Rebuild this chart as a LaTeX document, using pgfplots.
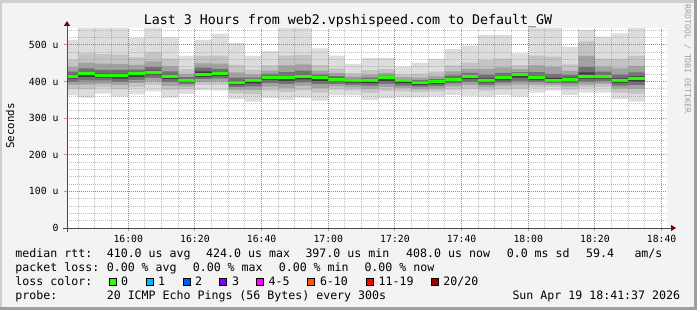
\documentclass[border=0pt]{standalone}
\usepackage{fontspec}
\setmonofont{DejaVu Sans Mono}
\usepackage{pgfplots}
\pgfplotsset{compat=1.18}
\usepackage{pgfplotstable}
\usetikzlibrary{arrows.meta}
\definecolor{bgc}{HTML}{F3F3F3}
\definecolor{shadea}{HTML}{CFCFCF}
\definecolor{shadeb}{HTML}{9E9E9E}
\definecolor{sm1}{HTML}{DDDDDD}
\definecolor{sm2}{HTML}{C4C4C4}
\definecolor{sm3}{HTML}{A2A2A2}
\definecolor{sm4}{HTML}{717171}
\definecolor{sm5}{HTML}{3C3C3C}
\definecolor{medgreen}{HTML}{26FF00}
\definecolor{arrowred}{HTML}{7F0000}
\definecolor{mgrid}{RGB}{200,60,60}
\definecolor{mingrid}{RGB}{140,140,140}
\definecolor{lc1}{HTML}{00B8FF}
\definecolor{lc2}{HTML}{0059FF}
\definecolor{lc3}{HTML}{7E00FF}
\definecolor{lc5}{HTML}{FF00FF}
\definecolor{lc10}{HTML}{FF5500}
\definecolor{lc19}{HTML}{FF0000}
\definecolor{lc20}{HTML}{A00000}
\definecolor{wm}{HTML}{A0A0A0}
\newcommand\lfont{\ttfamily\fontsize{11.6bp}{13bp}\selectfont}
\pgfplotstableread{
x min lo2 lo3 lo4 lo5 med hi5 hi4 hi3 hi2 max
940 362 380 391 400 408 415 419 427 440 460 514
945 356 379 392 403 412 421 426 436 452 477 546
950 367 384 394 403 410 417 422 432 449 475 546
955 359 379 390 400 408 416 421 432 448 474 546
960 365 385 396 405 413 421 425 433 446 466 520
965 373 391 402 410 418 425 430 440 455 480 546
970 356 377 388 399 407 415 419 428 442 463 521
975 366 379 387 393 399 404 407 412 421 434 470
980 376 391 400 407 413 419 428 438 450 470 514
985 375 391 401 409 415 422 426 435 449 471 531
990 352 368 377 385 392 398 402 411 425 446 505
995 345 365 377 387 395 403 406 411 420 433 470
1000 355 375 386 396 404 412 415 421 430 444 483
1005 350 371 383 393 402 410 415 426 444 471 546
1010 356 376 388 398 406 414 419 430 447 473 546
1015 348 370 382 393 401 410 413 420 430 446 491
1020 362 378 387 394 401 407 410 415 423 436 471
1025 362 376 384 391 397 403 405 408 414 423 448
1030 350 369 380 389 396 404 406 411 419 431 464
1035 354 374 385 394 402 410 412 416 424 434 464
1040 357 373 382 389 396 402 404 407 412 420 441
1045 357 371 379 386 391 397 399 404 411 422 452
1050 359 373 381 388 393 399 402 407 415 427 462
1055 363 378 387 395 401 407 410 417 428 444 489
1060 361 380 390 399 407 414 417 424 435 452 498
1065 359 375 384 391 398 404 409 419 435 459 527
1070 363 379 389 397 403 410 415 424 439 463 527
1075 359 380 392 402 411 419 421 426 434 445 477
1080 370 384 392 399 404 410 415 426 444 471 546
1085 375 385 391 396 400 404 410 421 440 468 546
1090 363 378 387 395 401 407 411 418 429 447 495
1095 370 384 392 400 408 414 425 440 470 510 541
1100 370 385 394 402 408 414 418 427 441 463 523
1105 352 370 381 389 397 404 409 419 436 462 532
1110 345 367 380 390 399 408 414 425 443 470 546
1115 345 367 380 390 399 408 414 425 443 470 546
}\smoke
\begin{document}
\begin{tikzpicture}[x=1bp,y=1bp]
\fill[bgc] (0,0) rectangle (697,310);
\fill[shadea] (0,307) rectangle (697,310);
\fill[shadea] (0,0) rectangle (2,310);
\fill[shadeb] (0,0) rectangle (697,3);
\fill[shadeb] (694,0) rectangle (697,310);
\begin{axis}[
  at={(67bp,82bp)}, anchor=south west,
  scale only axis, width=600bp, height=200bp,
  xmin=941.617, xmax=1121.617, ymin=0, ymax=546.4,
  axis on top,
  axis background/.style={fill=white},
  axis lines=left,
  x axis line style={draw=black!70, line width=1bp, -{Triangle[length=5bp,width=6bp,color=arrowred]}, shorten >=-9bp, shorten <=-4bp},
  y axis line style={draw=black!70, line width=1bp, -{Triangle[length=5bp,width=6bp,color=arrowred]}, shorten >=-7bp, shorten <=-4bp},
  xtick={960,980,...,1120},
  xticklabels={16:00,16:20,16:40,17:00,17:20,17:40,18:00,18:20,18:40},
  minor xtick={945,950,...,1120},
  ytick={0,100,...,500},
  yticklabels={0,100 u,200 u,300 u,400 u,500 u},
  minor ytick={20,40,...,540},
  grid=both,
  major grid style={draw=mgrid, opacity=0.55, line width=1bp, dash pattern=on 1bp off 1bp},
  minor grid style={draw=mingrid, opacity=0.55, line width=1bp, dash pattern=on 1bp off 1bp},
  tick align=outside,
  major tick length=3bp, minor tick length=0bp,
  major tick style={draw=mgrid, opacity=0.6, line width=1bp},
  ticklabel style={font=\ttfamily\fontsize{9.8bp}{11bp}\selectfont},
  yticklabel style={xshift=-2bp},
  xticklabel style={yshift=-1bp},
  every axis plot/.append style={const plot, draw=none, forget plot},
]
% upper edges of the smoke layers, outer to inner
\addplot[fill=sm1] table[x=x,y=max]{\smoke} \closedcycle;
\addplot[fill=sm2] table[x=x,y=hi2]{\smoke} \closedcycle;
\addplot[fill=sm3] table[x=x,y=hi3]{\smoke} \closedcycle;
\addplot[fill=sm4] table[x=x,y=hi4]{\smoke} \closedcycle;
\addplot[fill=sm5] table[x=x,y=hi5]{\smoke} \closedcycle;
% lower edges, inner to outer
\addplot[fill=sm4] table[x=x,y=lo5]{\smoke} \closedcycle;
\addplot[fill=sm3] table[x=x,y=lo4]{\smoke} \closedcycle;
\addplot[fill=sm2] table[x=x,y=lo3]{\smoke} \closedcycle;
\addplot[fill=sm1] table[x=x,y=lo2]{\smoke} \closedcycle;
\addplot[fill=white] table[x=x,y=min]{\smoke} \closedcycle;
% median
\addplot[jump mark left, draw=medgreen, line width=3bp] table[x=x,y=med]{\smoke};
\end{axis}
% title and labels
\node[anchor=base, inner sep=0, font=\ttfamily\fontsize{13.3bp}{15bp}\selectfont] at (348,286) {Last 3 Hours from web2.vpshispeed.com to Default\_GW};
\node[rotate=90, inner sep=0, font=\ttfamily\fontsize{10.8bp}{12bp}\selectfont] at (10,184) {Seconds};
\node[rotate=-90, inner sep=0, text=wm, font=\ttfamily\fontsize{8.2bp}{9bp}\selectfont] at (687.5,251) {RRDTOOL / TOBI OETIKER};
\begin{scope}[every node/.style={anchor=base west, inner sep=0, font=\lfont}]
% line 1
\node at (15.3,52.3) {median rtt:};
\node at (106.6,52.3) {410.0 us avg};
\node at (206,52.3) {424.0 us max};
\node at (305.3,52.3) {397.0 us min};
\node at (406,52.3) {408.0 us now};
\node at (506.6,52.3) {0.0 ms sd};
\node at (586,52.3) {59.4};
\node at (634.3,52.3) {am/s};
% line 2
\node at (15.3,38.4) {packet loss:};
\node at (106.6,38.4) {0.00 \% avg};
\node at (192.6,38.4) {0.00 \% max};
\node at (278.6,38.4) {0.00 \% min};
\node at (364.3,38.4) {0.00 \% now};
% line 3
\node at (15.3,24.5) {loss color:};
\node at (121,24.5) {0};
\node at (158,24.5) {1};
\node at (195,24.5) {2};
\node at (231.8,24.5) {3};
\node at (268.5,24.5) {4-5};
\node at (319.8,24.5) {6-10};
\node at (378.5,24.5) {11-19};
\node at (443.2,24.5) {20/20};
% line 4
\node at (15.3,10.6) {probe:};
\node at (106.6,10.6) {20 ICMP Echo Pings (56 Bytes) every 300s};
\node at (512.3,10.6) {Sun Apr 19 18:41:37 2026};
\end{scope}
\begin{scope}[line width=1bp, draw=black]
\filldraw[fill=medgreen] (109.2,24.3) rectangle +(6.8,6.8);
\filldraw[fill=lc1] (146.2,24.3) rectangle +(6.8,6.8);
\filldraw[fill=lc2] (183.2,24.3) rectangle +(6.8,6.8);
\filldraw[fill=lc3] (219.8,24.3) rectangle +(6.8,6.8);
\filldraw[fill=lc5] (256.5,24.3) rectangle +(6.8,6.8);
\filldraw[fill=lc10] (307.8,24.3) rectangle +(6.8,6.8);
\filldraw[fill=lc19] (366.5,24.3) rectangle +(6.8,6.8);
\filldraw[fill=lc20] (431.2,24.3) rectangle +(6.8,6.8);
\end{scope}
\pgfresetboundingbox
\path[use as bounding box] (0,0) rectangle (697,310);
\end{tikzpicture}
\end{document}
